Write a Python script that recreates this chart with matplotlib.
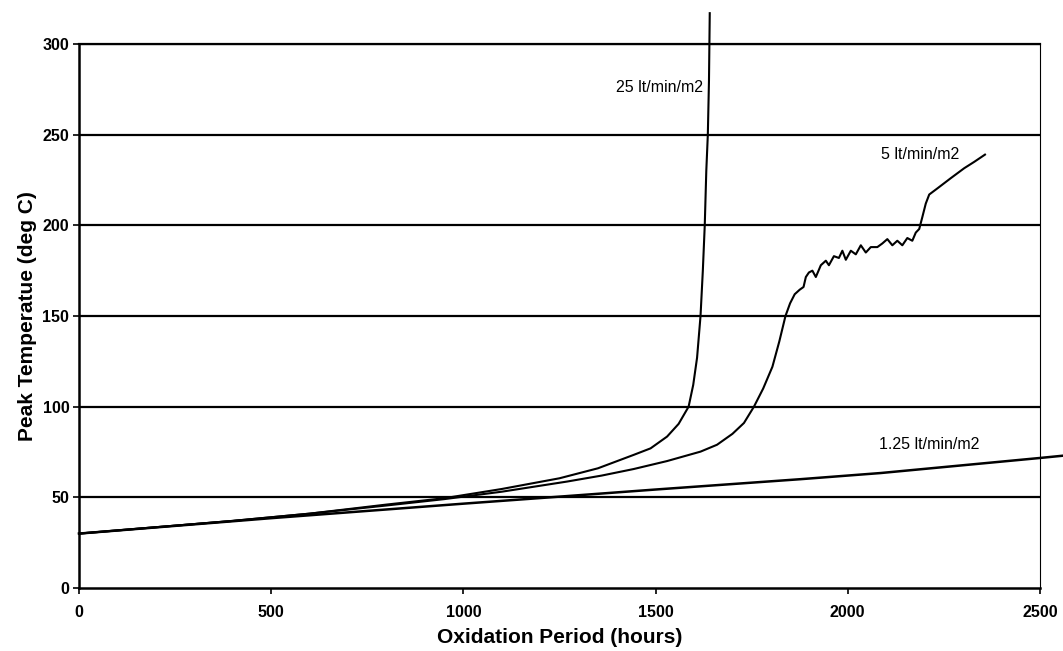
import matplotlib
matplotlib.use("Agg")
import matplotlib.pyplot as plt

plt.rcParams['font.family'] = ['Liberation Sans', 'DejaVu Sans']

# 1.25 lt/min/m2
x_125 = [0, 500, 1000, 1226, 1500, 1877, 2086, 2500, 2562]
y_125 = [30, 38.5, 46.5, 50, 54.3, 60, 63.4, 71.7, 73]

# 5 lt/min/m2
x_5 = [0, 200, 400, 600, 800, 950, 1100, 1270, 1360, 1443, 1530, 1617, 1660,
       1700, 1730, 1756, 1780, 1804, 1822, 1838, 1850, 1862, 1875, 1885,
       1891, 1899, 1908, 1917, 1930, 1943, 1951, 1964, 1977, 1986, 1995, 2008,
       2021, 2034, 2047, 2060, 2077, 2090, 2103, 2116, 2129, 2142, 2155, 2168,
       2177, 2186, 2194, 2203, 2212, 2234, 2268, 2303, 2329, 2357]
y_5 = [30, 33.5, 37, 41, 45.5, 49, 53.1, 58.7, 62, 65.6, 70, 75.2, 79,
       85, 91, 100, 110, 122, 136, 150, 157, 162, 164.5, 166,
       171.5, 174, 175, 171.5, 178, 180.5, 178, 183, 182, 186, 181, 186,
       184, 189, 185, 188, 188, 190, 192.4, 189, 191.5, 189, 193, 191.5,
       196, 198, 204.5, 212, 217, 220.5, 226, 231.5, 235, 239]

# 25 lt/min/m2
x_25 = [0, 200, 400, 600, 800, 950, 1100, 1250, 1350, 1443, 1487, 1530, 1560,
        1586, 1598, 1608, 1617, 1623, 1628, 1632, 1636, 1639, 1641]
y_25 = [30, 33.5, 37, 41, 46, 49.5, 54.6, 60.5, 66, 73.4, 77, 83.5, 90.5,
        100, 112, 127, 150, 175, 200, 230, 250, 280, 317]

labels = ['25 lt/min/m2', '5 lt/min/m2', '1.25 lt/min/m2']
label_x = [1398, 2086, 2081]
label_y = [276, 239, 79]

fig = plt.figure(figsize=(10.63, 6.51), dpi=100)
ax = fig.add_axes([0.0743, 0.0968, 0.904, 0.8356])

for yv in [50, 100, 150, 200, 250, 300]:
    ax.axhline(yv, color='black', lw=1.6, zorder=1)

ax.plot(x_125, y_125, color='black', lw=1.8, clip_on=False, zorder=3)
ax.plot(x_5, y_5, color='black', lw=1.5, zorder=3)
ax.plot(x_25, y_25, color='black', lw=1.5, clip_on=False, zorder=3)

for t, lx, ly in zip(labels, label_x, label_y):
    ax.text(lx, ly, t, fontsize=11.5, va='center', ha='left')

ax.set_xlim(0, 2500)
ax.set_ylim(0, 300)
ax.set_xticks([0, 500, 1000, 1500, 2000, 2500])
ax.set_yticks([0, 50, 100, 150, 200, 250, 300])
ax.tick_params(direction='out', length=4, width=1.2, labelsize=11.5)
for lab in ax.get_xticklabels() + ax.get_yticklabels():
    lab.set_fontweight('bold')
ax.tick_params(axis='x', pad=8)
ax.tick_params(axis='y', pad=3)

ax.spines['left'].set_linewidth(1.8)
ax.spines['bottom'].set_linewidth(1.8)
ax.spines['top'].set_linewidth(1.6)
ax.spines['right'].set_linewidth(0.8)
ax.spines['right'].set_linestyle((0, (1, 1)))

ax.set_xlabel('Oxidation Period (hours)', fontsize=15, fontweight='bold', labelpad=6)
ax.set_ylabel('Peak Temperatue (deg C)', fontsize=15, fontweight='bold', labelpad=4)

fig.savefig('out.png', dpi=100)
